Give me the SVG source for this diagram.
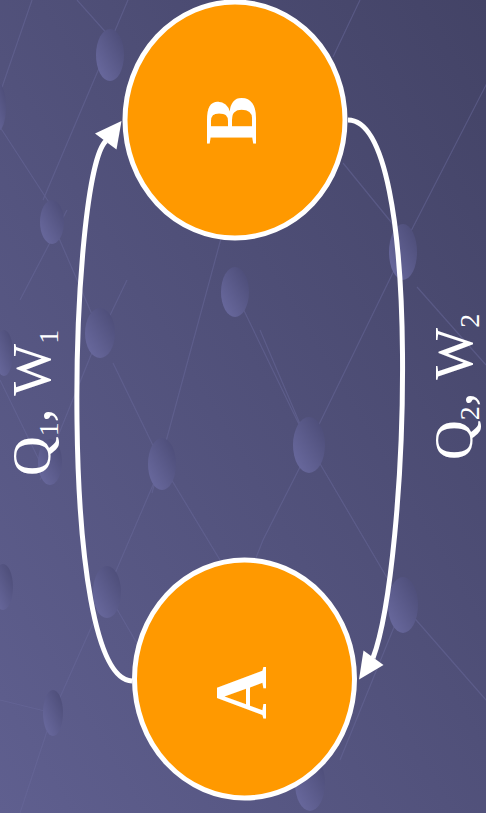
<svg xmlns="http://www.w3.org/2000/svg" width="486" height="813" viewBox="0 0 486 813">
<defs>
<linearGradient id="bg" x1="0" y1="1" x2="1" y2="0">
<stop offset="0" stop-color="#5f5f8f"/>
<stop offset="1" stop-color="#434366"/>
</linearGradient>
<linearGradient id="bub" x1="0" y1="1" x2="1" y2="0">
<stop offset="0" stop-color="#6c6ca2"/>
<stop offset="1" stop-color="#4a4a74"/>
</linearGradient>
<style>
.bub{fill:url(#bub);}
.lat{stroke:#6a6a9c;stroke-width:1.2;opacity:0.5;fill:none;}
.node{fill:#ff9900;stroke:#ffffff;stroke-width:5;}
.nl{font-family:"Liberation Serif","Times New Roman",serif;font-weight:bold;font-size:73px;fill:#ffffff;text-anchor:middle;}
.lbl{font-family:"Liberation Serif","Times New Roman",serif;font-size:55px;fill:#ffffff;}
.conn{fill:none;stroke:#ffffff;stroke-width:5;}
.head{fill:#ffffff;}
</style>
</defs>
<rect width="486" height="813" fill="url(#bg)"/>
<g id="background">
<path class="lat" d="M77,0 L110,37 M128,0 L43,200 M32,0 L0,93 M0,127 L52,207 M67,210 L20,300 M360,0 L333,57 M487,83 L410,233 M343,163 L400,233 M52,222 L100,333 M127,280 L90,357 M245,150 L152,493 M235,292 L309,445 M113,363 L162,464 M403,252 L309,445 M417,287 L486,365 M309,445 L403,605 M300,467 L263,540 M100,333 L40,480 M162,464 L107,592 M107,592 L53,713 M162,464 L220,560 M403,605 L340,760 M53,713 L20,813 M107,592 L170,700 M403,605 L486,700 M263,540 L200,700 M309,445 L260,330 M0,380 L40,462 M0,700 L53,713"/>
<ellipse class="bub" cx="110" cy="55" rx="14" ry="26"/>
<ellipse class="bub" cx="-2" cy="107" rx="8" ry="24"/>
<ellipse class="bub" cx="52" cy="222" rx="12" ry="22"/>
<ellipse class="bub" cx="235" cy="292" rx="14" ry="25"/>
<ellipse class="bub" cx="403" cy="252" rx="14" ry="28"/>
<ellipse class="bub" cx="100" cy="333" rx="15" ry="25"/>
<ellipse class="bub" cx="4" cy="353" rx="9" ry="23"/>
<ellipse class="bub" cx="162" cy="464" rx="14" ry="26"/>
<ellipse class="bub" cx="309" cy="445" rx="16" ry="28"/>
<ellipse class="bub" cx="50" cy="462" rx="12" ry="23"/>
<ellipse class="bub" cx="107" cy="592" rx="14" ry="26"/>
<ellipse class="bub" cx="3" cy="587" rx="10" ry="23"/>
<ellipse class="bub" cx="53" cy="713" rx="10" ry="23"/>
<ellipse class="bub" cx="403" cy="605" rx="15" ry="28"/>
<ellipse class="bub" cx="310" cy="783" rx="15" ry="28"/>
</g>
<g id="connectors">
<path class="conn" d="M132,681 C56,678 70,172 106,141"/>
<polygon class="head" points="121.5,121 95,133.5 116.5,149.5"/>
<path class="conn" d="M348,120 C425,120 408,565 373,658"/>
<polygon class="head" points="359,679.5 363.5,650.5 383.5,665"/>
</g>
<g id="node-B">
<ellipse class="node" cx="235" cy="120" rx="110" ry="118"/>
<text class="nl" transform="translate(256,120.5) rotate(-90)">B</text>
</g>
<g id="node-A">
<ellipse class="node" cx="244.5" cy="679" rx="110" ry="119"/>
<text class="nl" transform="translate(266,693) rotate(-90)">A</text>
</g>
<g id="label-1">
<text class="lbl" transform="translate(50,476) rotate(-90)">Q<tspan font-size="28" dy="8">1</tspan><tspan dy="-8">, W</tspan><tspan font-size="28" dy="8">1</tspan></text>
</g>
<g id="label-2">
<text class="lbl" transform="translate(472,460) rotate(-90)">Q<tspan font-size="28" dy="7">2</tspan><tspan dy="-7">, W</tspan><tspan font-size="28" dy="7">2</tspan></text>
</g>
</svg>
